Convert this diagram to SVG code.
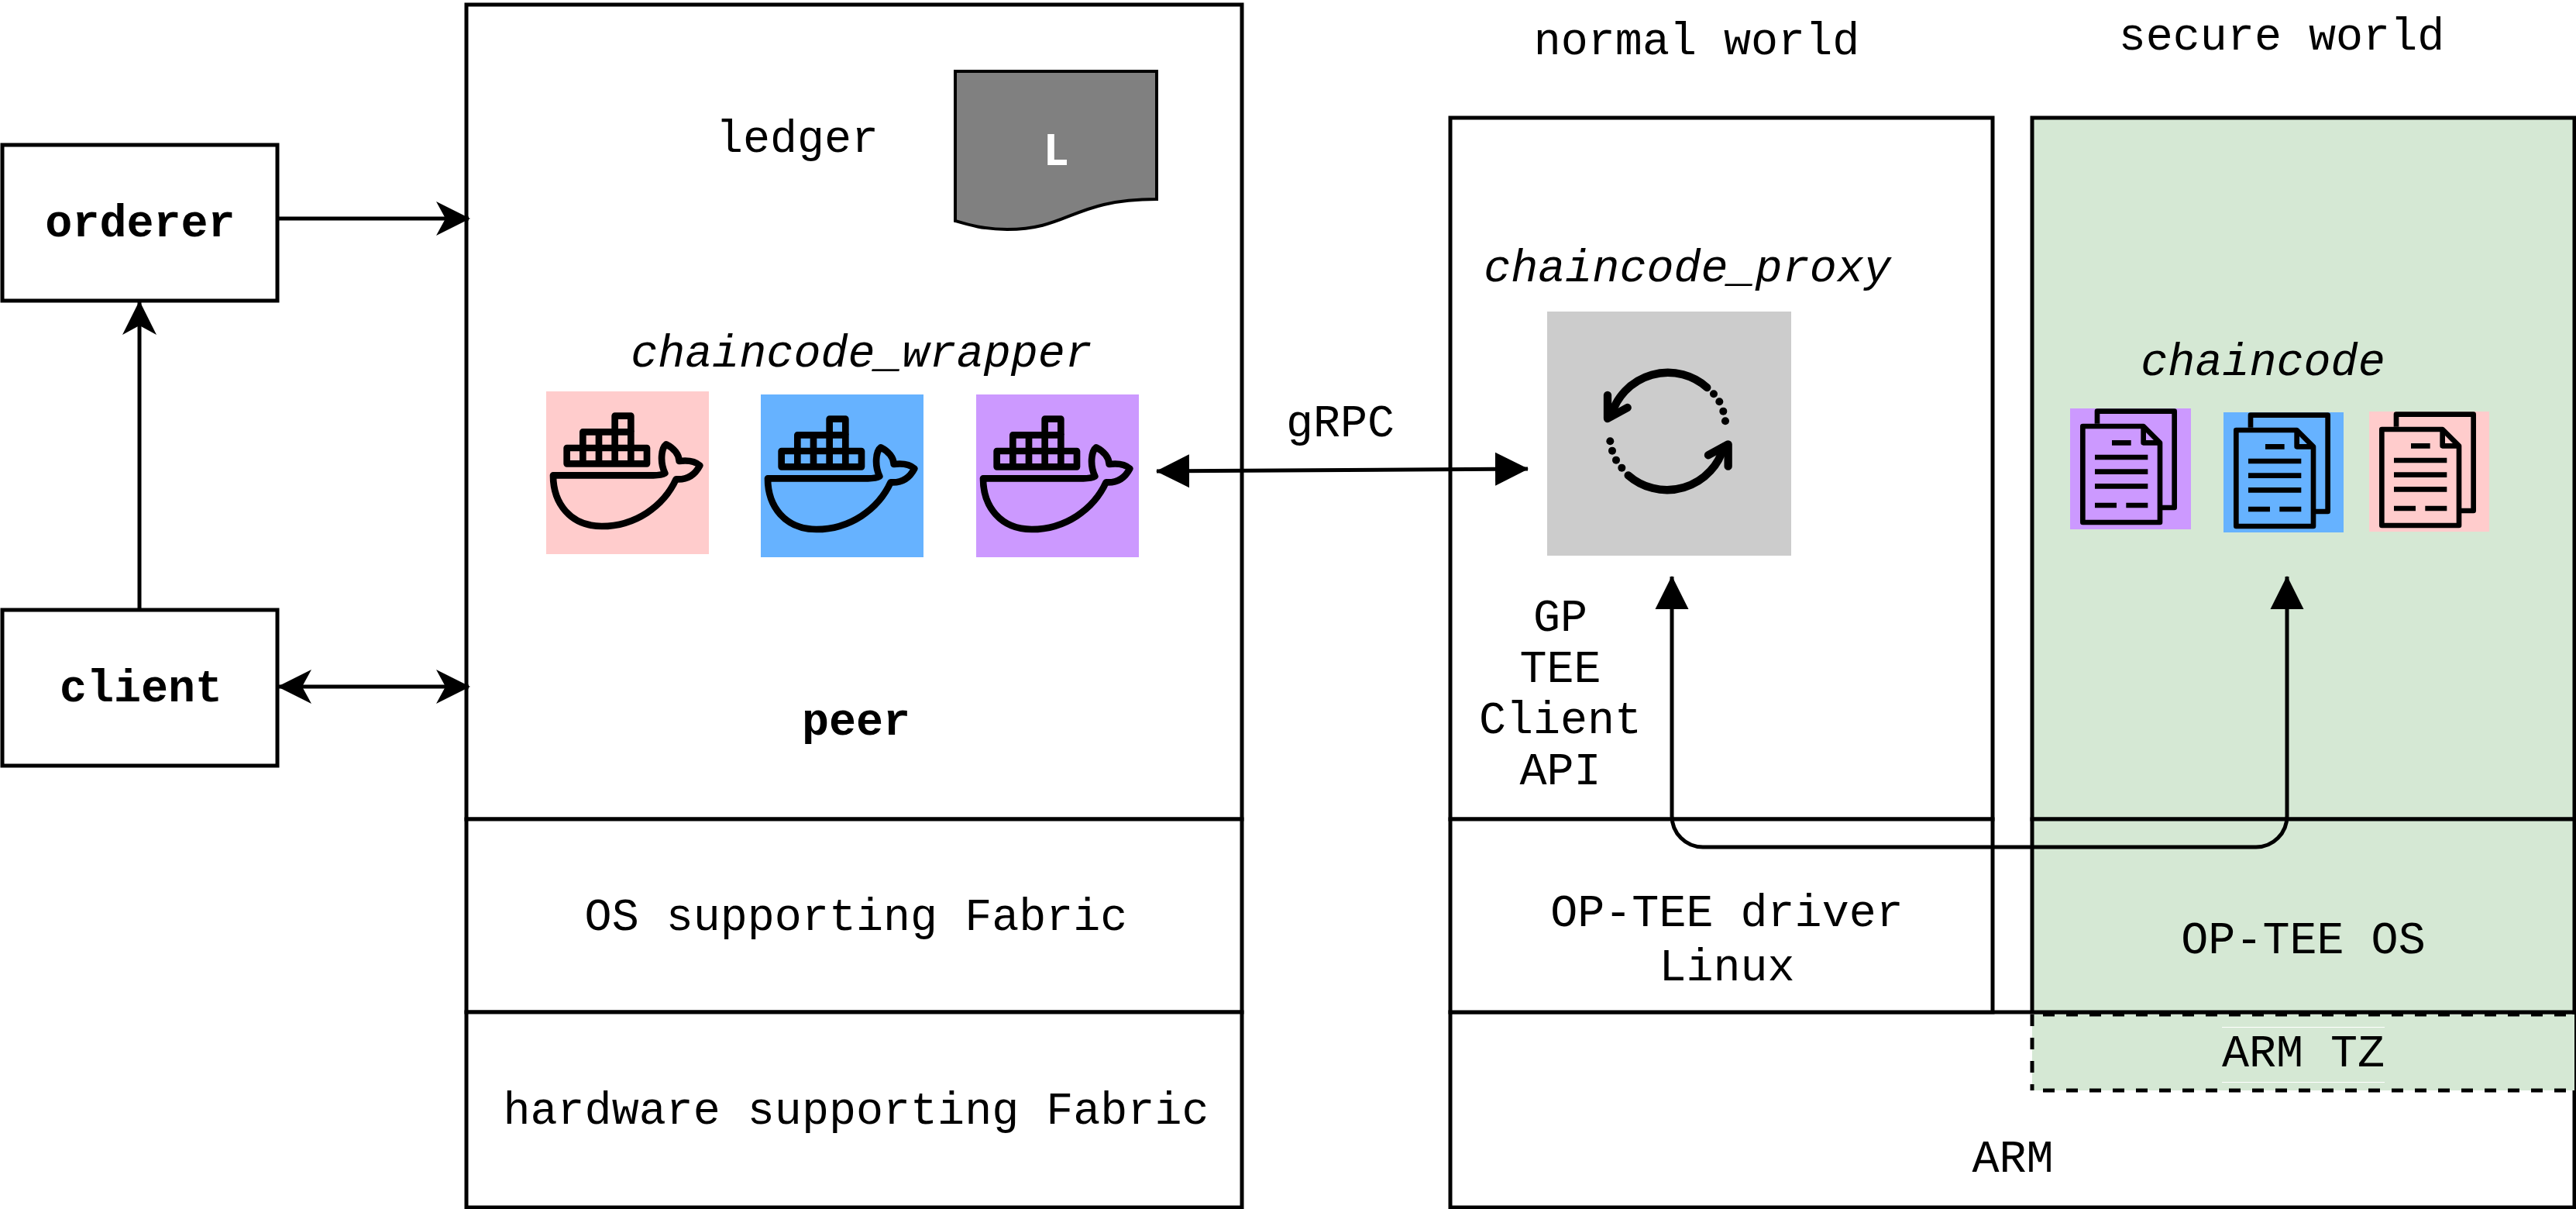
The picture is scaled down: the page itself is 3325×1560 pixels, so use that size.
<svg xmlns="http://www.w3.org/2000/svg" xmlns:xlink="http://www.w3.org/1999/xlink" width="3325" height="1560" viewBox="0 0 3325 1560">
<style>
.b{fill:#fff;stroke:#000;stroke-width:5}
.t{font-family:"Liberation Mono","Courier New",monospace;font-size:58.4px;fill:#000;text-anchor:middle}
.bd{font-weight:bold}
.it{font-style:italic}
.c{fill:none;stroke:#000;stroke-width:5;stroke-linejoin:round}
.i{fill:none;stroke:#000;stroke-linejoin:round}
.d{fill:none;stroke:#000;stroke-width:5;stroke-dasharray:15 15}
</style>
<defs>
<marker id="ah" markerUnits="userSpaceOnUse" markerWidth="50" markerHeight="50" viewBox="0 -25 50 50" refX="42" refY="0" orient="auto-start-reverse">
<path d="M0,-22 L44,0 L0,22 L12,0 Z" fill="#000"/>
</marker>
<marker id="bh" markerUnits="userSpaceOnUse" markerWidth="50" markerHeight="50" viewBox="0 -25 50 50" refX="42" refY="0" orient="auto-start-reverse">
<path d="M0,-21.500 L43,0 L0,21.500 Z" fill="#000"/>
</marker>
<g id="whale" class="i" stroke-width="26">
<path d="M155 294H465V355H155ZM217 294V355M279 294V355M341 294V355M403 294V355"/>
<path d="M217 294V232H403V294M279 232V294M341 232V294"/>
<path d="M341 232V170H403V232"/>
<path d="M102 400H490C510 400 525 398 535 392C515 350 520 295 540 280C570 295 590 320 590 345C630 340 655 348 670 362C650 400 620 418 578 415C530 520 420 597 290 597C170 597 102 510 102 400Z"/>
</g>
<g id="doc" class="i" stroke-width="20">
<path d="M171 140V92H470V465H420"/>
<path d="M115 150H350L414 214V522H115Z"/>
<path d="M350 150V214H414"/>
<path d="M228 214H302M162 270H367M162 326H367M162 382H367M162 456H246M283 456H367"/>
</g>
</defs>

<g id="orderer"><rect class="b" x="3" y="187" width="355" height="201"/><text class="t bd" x="181" y="305">orderer</text></g>
<g id="client"><rect class="b" x="3" y="787" width="355" height="201"/><text class="t bd" x="182" y="905">client</text></g>

<g id="peer">
<rect class="b" x="602" y="6" width="1001" height="1051"/>
<text class="t" x="1029" y="196">ledger</text>
<text class="t it" x="1112" y="473">chaincode_wrapper</text>
<text class="t bd" x="1105" y="948">peer</text>
</g>
<g id="ledger-doc">
<path d="M1233 92H1493V257C1385 257 1380 296 1300 296C1270 296 1250 290 1233 285Z" fill="#808080" stroke="#000" stroke-width="4"/>
<text x="1363" y="213" font-family="'Open Sans',sans-serif" font-weight="bold" font-size="56" fill="#fff" text-anchor="middle">L</text>
</g>
<g id="whale-pink"><rect x="705" y="505" width="210" height="210" fill="#ffcccc"/><use xlink:href="#whale" href="#whale" transform="translate(680 480) scale(.3333)"/></g>
<g id="whale-blue"><rect x="982" y="509" width="210" height="210" fill="#66b2ff"/><use xlink:href="#whale" href="#whale" transform="translate(957 484) scale(.3333)"/></g>
<g id="whale-purple"><rect x="1260" y="509" width="210" height="210" fill="#cc99ff"/><use xlink:href="#whale" href="#whale" transform="translate(1235 484) scale(.3333)"/></g>
<g id="os-fabric"><rect class="b" x="602" y="1057" width="1001" height="249"/><text class="t" x="1105" y="1200">OS supporting Fabric</text></g>
<g id="hw-fabric"><rect class="b" x="602" y="1306" width="1001" height="252"/><text class="t" x="1105" y="1450">hardware supporting Fabric</text></g>

<text class="t" x="2190" y="70">normal world</text>
<text class="t" x="2945" y="64">secure world</text>

<g id="arm"><rect class="b" x="1872" y="1306" width="1451" height="252"/><text class="t" x="2598" y="1512">ARM</text></g>
<g id="normal-world">
<rect class="b" x="1872" y="152" width="700" height="905"/>
<text class="t it" x="2178" y="363">chaincode_proxy</text>
<text class="t" x="2014" y="814">GP</text>
<text class="t" x="2014" y="880">TEE</text>
<text class="t" x="2014" y="946">Client</text>
<text class="t" x="2014" y="1012">API</text>
</g>
<g id="proxy-icon">
<rect x="1997" y="402" width="315" height="315" fill="#cccccc"/>
<g transform="translate(1980 400) scale(.3333)" fill="none" stroke="#000" stroke-linecap="round" stroke-linejoin="round" stroke-width="31">
<path d="M670 300A228 228 0 0 0 300 405"/>
<path d="M285 330V420L362 378"/>
<path d="M365 640A228 228 0 0 0 735 530"/>
<path d="M752 605V520L675 562"/>
<g fill="#000" stroke="none"><circle cx="696" cy="325" r="15"/><circle cx="718" cy="355" r="15"/><circle cx="733" cy="392" r="15"/><circle cx="741" cy="430" r="15"/><circle cx="295" cy="508" r="15"/><circle cx="303" cy="545" r="15"/><circle cx="318" cy="581" r="15"/><circle cx="340" cy="611" r="15"/></g>
</g>
</g>
<g id="op-tee-driver"><rect class="b" x="1872" y="1057" width="700" height="249"/><text class="t" x="2229" y="1195">OP-TEE driver</text><text class="t" x="2229" y="1265">Linux</text></g>

<g id="secure-world">
<rect x="2623" y="152" width="700" height="905" fill="#d5e8d4" stroke="#000" stroke-width="5"/>
<text class="t it" x="2921" y="484">chaincode</text>
</g>
<g id="doc-purple"><rect x="2672" y="527" width="156" height="156" fill="#cc99ff"/><use xlink:href="#doc" href="#doc" transform="translate(2650 500) scale(.3333)"/></g>
<g id="doc-blue"><rect x="2870" y="532" width="155" height="155" fill="#66b2ff"/><use xlink:href="#doc" href="#doc" transform="translate(2848 505) scale(.3333)"/></g>
<g id="doc-pink"><rect x="3058" y="531" width="155" height="155" fill="#ffcccc"/><use xlink:href="#doc" href="#doc" transform="translate(3036 504) scale(.3333)"/></g>
<g id="op-tee-os"><rect x="2623" y="1057" width="700" height="249" fill="#d5e8d4" stroke="#000" stroke-width="5"/><text class="t" x="2973" y="1230">OP-TEE OS</text></g>
<g id="arm-tz">
<rect x="2623" y="1309" width="700" height="98" fill="#d5e8d4"/>
<path class="d" stroke-dashoffset="16" d="M2623 1309H3323M2623 1407H3323"/>
<path class="d" d="M2623 1309V1407"/>
<path d="M2868 1325.500H3078M2868 1396.500H3078" stroke="#fff" stroke-width="1" fill="none"/>
<text class="t" x="2973" y="1376">ARM TZ</text>
</g>

<g id="connectors">
<path class="c" d="M358 282H605" marker-end="url(#ah)"/>
<path class="c" d="M180 787V390" marker-end="url(#ah)"/>
<path class="c" d="M360 886H605" marker-start="url(#ah)" marker-end="url(#ah)"/>
<path class="c" d="M1493 608L1972 605" marker-start="url(#bh)" marker-end="url(#bh)"/>
<path class="c" d="M2158 744V1053A40 40 0 0 0 2198 1093H2912A40 40 0 0 0 2952 1053V744" marker-start="url(#bh)" marker-end="url(#bh)"/>
</g>
<text class="t" x="1730" y="563">gRPC</text>
</svg>
